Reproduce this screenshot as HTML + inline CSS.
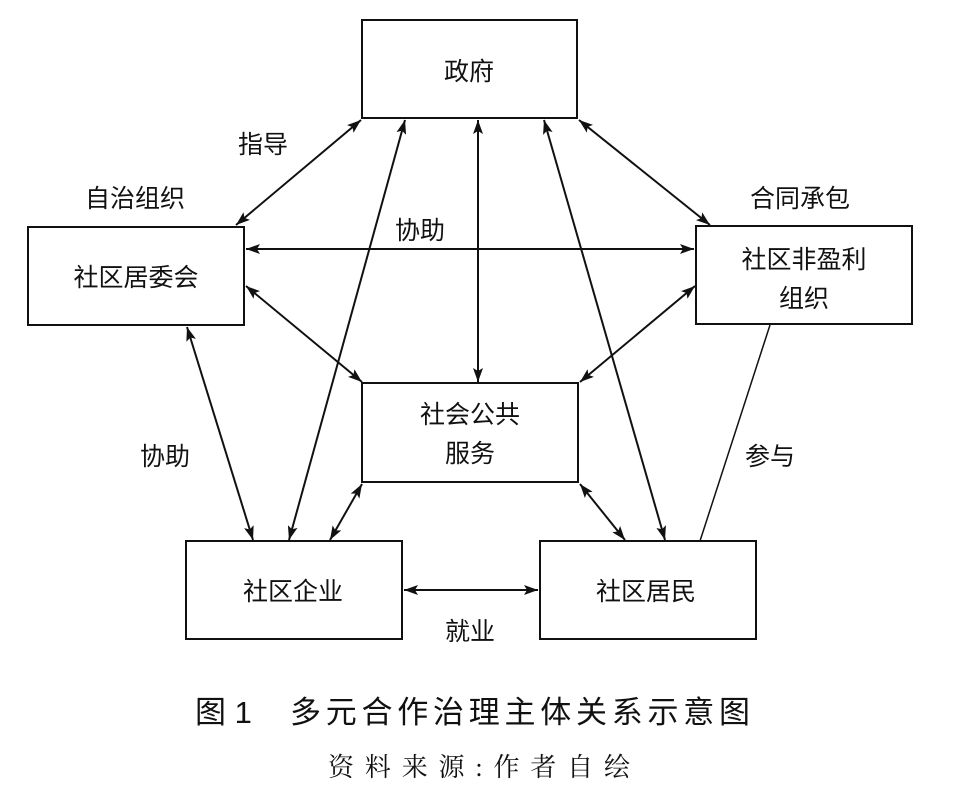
<!DOCTYPE html>
<html><head><meta charset="utf-8"><style>
body{margin:0;background:#fff;}
svg text{font-family:"Liberation Sans","Noto Sans CJK SC",sans-serif;fill:#111;}
</style></head><body>
<svg width="965" height="794" viewBox="0 0 965 794" xmlns="http://www.w3.org/2000/svg">
<defs>
<marker id="a" viewBox="0 0 14 10" refX="14" refY="5" markerWidth="14" markerHeight="10" orient="auto-start-reverse" markerUnits="userSpaceOnUse">
<path d="M0,0 L14,5 L0,10 L3,5 z" fill="#111"/></marker>
</defs>
<g fill="none" stroke="#111" stroke-width="2">
<rect x="362" y="20" width="215" height="98"/>
<rect x="28" y="227" width="216" height="98"/>
<rect x="696" y="226" width="216" height="98"/>
<rect x="362" y="383" width="216" height="99"/>
<rect x="186" y="541" width="216" height="98"/>
<rect x="540" y="541" width="216" height="98"/>
</g>
<g stroke="#111" stroke-width="2" marker-start="url(#a)" marker-end="url(#a)" fill="none">
<line x1="361" y1="120" x2="236" y2="225"/>
<line x1="405" y1="120" x2="289" y2="540"/>
<line x1="478" y1="120" x2="478" y2="382"/>
<line x1="544" y1="120" x2="665" y2="540"/>
<line x1="579" y1="120" x2="710" y2="225"/>
<line x1="246" y1="249" x2="694" y2="249"/>
<line x1="246" y1="286" x2="362" y2="382"/>
<line x1="695" y1="286" x2="580" y2="382"/>
<line x1="187" y1="327" x2="253" y2="540"/>
<line x1="362" y1="484" x2="330" y2="540"/>
<line x1="580" y1="484" x2="625" y2="540"/>
<line x1="404" y1="590" x2="538" y2="590"/>
</g>
<line x1="770" y1="325" x2="700" y2="541" stroke="#111" stroke-width="1.5"/>
<g font-size="25" text-anchor="middle">
<text x="469" y="80">政府</text>
<text x="263" y="153">指导</text>
<text x="135" y="207">自治组织</text>
<text x="420" y="239">协助</text>
<text x="800" y="207">合同承包</text>
<text x="136" y="286">社区居委会</text>
<text x="804" y="268">社区非盈利</text>
<text x="804" y="307">组织</text>
<text x="470" y="423">社会公共</text>
<text x="470" y="462">服务</text>
<text x="165" y="465">协助</text>
<text x="770" y="465">参与</text>
<text x="293" y="600">社区企业</text>
<text x="646" y="600">社区居民</text>
<text x="470" y="640">就业</text>
</g>
<text x="195" y="723" font-size="31">图 1</text>
<text x="290" y="723" font-size="31" textLength="460">多元合作治理主体关系示意图</text>
<text x="328" y="776" font-size="26" textLength="302" style="font-family:'Liberation Serif','Noto Serif CJK SC',serif">资料来源:作者自绘</text>
</svg>
</body></html>
